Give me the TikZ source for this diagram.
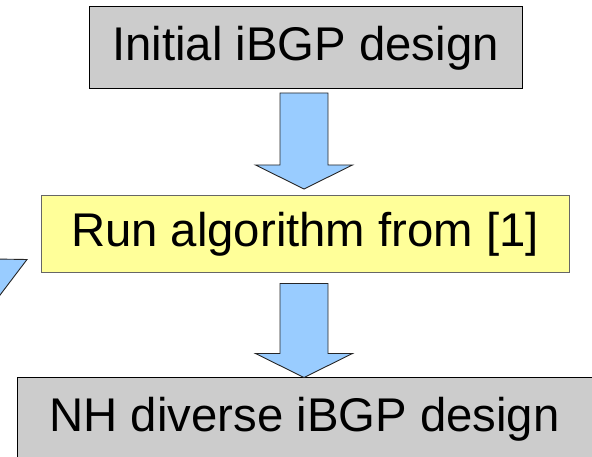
\documentclass[tikz,border=0pt]{standalone}
\usepackage{fontspec}
\setmainfont{Liberation Sans}
\usetikzlibrary{calc}
\definecolor{boxgray}{HTML}{CCCCCC}
\definecolor{boxyellow}{HTML}{FFFF99}
\definecolor{arrowblue}{HTML}{99CCFF}
\tikzset{
  stepbox/.style={draw=black, line width=1pt, inner sep=0pt, outer sep=0pt,
    font=\fontsize{47.3}{52}\selectfont},
  blockarrow/.style={fill=arrowblue, draw=black!85, line width=0.9pt, line join=miter},
}
\begin{document}
\begin{tikzpicture}[x=1pt, y=-1pt]
  \useasboundingbox (0,0) rectangle (592,457);
  \clip (0,0) rectangle (592,457);

  % process boxes
  \node[stepbox, fill=boxgray, minimum width=433pt, minimum height=82pt]
    (init) at (305.5,48) {Initial iBGP design};
  \node[stepbox, fill=boxyellow, draw=black!60, minimum width=528pt, minimum height=77pt]
    (run) at (305,234.5) {Run algorithm from [1]};
  \node[stepbox, fill=boxgray, minimum width=583pt, minimum height=93pt]
    (nhbox) at (308.5,423.5) {};
  \node[font=\fontsize{47.3}{52}\selectfont, inner sep=0pt]
    (nhtext) at (304.5,419.5) {NH diverse iBGP design};

  % block arrows between the boxes
  \coordinate (a1) at ($(init.south)+(-1.5,4)$);
  \draw[blockarrow] ($(a1)+(-24,0)$) -- ++(48,0) -- ++(0,72) -- ++(24.5,0)
    -- ($(a1)+(0,96)$) -- ++(-48.5,-24) -- ++(24.5,0) -- cycle;
  \coordinate (a2) at ($(run.south)+(-1,10.5)$);
  \draw[blockarrow] ($(a2)+(-24,0)$) -- ++(48,0) -- ++(0,70) -- ++(24.5,0)
    -- ($(a2)+(0,94)$) -- ++(-48.5,-24) -- ++(24.5,0) -- cycle;

  % head of the return arrow entering from the left
  \coordinate (fb) at ($(run.west)+(-14,25)$);
  \draw[blockarrow] (-6,259) -- (fb) -- (-6,303) -- cycle;
\end{tikzpicture}
\end{document}
